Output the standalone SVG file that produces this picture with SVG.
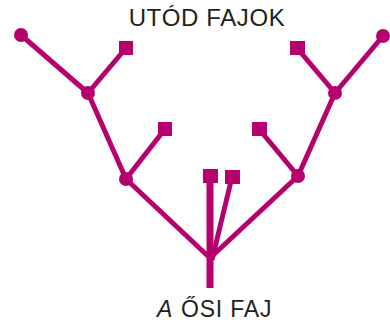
<svg xmlns="http://www.w3.org/2000/svg" width="390" height="322" viewBox="0 0 390 322">
<style>
.e{stroke:#b5006e;stroke-width:5;fill:none;stroke-linecap:butt}
.n{fill:#b5006e}
.t{font-family:"Liberation Sans",Arial,sans-serif;fill:#231f20}
</style>
<rect width="390" height="322" fill="#fff"/>
<g id="connectors">
<line class="e" x1="210" y1="258" x2="126" y2="179"/>
<line class="e" x1="126" y1="179" x2="88" y2="93"/>
<line class="e" x1="88" y1="93" x2="21" y2="35"/>
<line class="e" x1="88" y1="93" x2="126" y2="48"/>
<line class="e" x1="126" y1="179" x2="165" y2="129"/>
<line class="e" x1="210" y1="258" x2="298" y2="176"/>
<line class="e" x1="298" y1="176" x2="335" y2="93"/>
<line class="e" x1="335" y1="93" x2="383" y2="36"/>
<line class="e" x1="335" y1="93" x2="297" y2="48"/>
<line class="e" x1="298" y1="176" x2="259" y2="129"/>
<line class="e" x1="232" y1="177" x2="212" y2="260"/>
<line class="e" x1="210" y1="176" x2="210" y2="288" style="stroke-width:7"/>
</g>
<g id="leaf1"><circle class="n" cx="21" cy="35" r="7"/></g>
<g id="leaf2"><rect class="n" x="119" y="41" width="14" height="14"/></g>
<g id="leaf3"><rect class="n" x="158" y="122" width="14" height="14"/></g>
<g id="leaf4"><rect class="n" x="203" y="169" width="15" height="14"/></g>
<g id="leaf5"><rect class="n" x="225" y="170" width="15" height="14"/></g>
<g id="leaf6"><rect class="n" x="252" y="122" width="15" height="14"/></g>
<g id="leaf7"><rect class="n" x="290" y="41" width="15" height="14"/></g>
<g id="leaf8"><circle class="n" cx="383" cy="36" r="7"/></g>
<g id="j1"><circle class="n" cx="88" cy="93" r="7"/></g>
<g id="j2"><circle class="n" cx="126" cy="179" r="7"/></g>
<g id="j3"><circle class="n" cx="335" cy="93" r="7"/></g>
<g id="j4"><circle class="n" cx="298" cy="176" r="7"/></g>
<g id="labels">
<text class="t" x="207" y="26" font-size="24" text-anchor="middle" letter-spacing="0.6">UTÓD FAJOK</text>
<text class="t" x="157" y="317" font-size="23"><tspan font-style="italic">A</tspan><tspan x="181" letter-spacing="0.8">ŐSI FAJ</tspan></text>
</g>
</svg>
